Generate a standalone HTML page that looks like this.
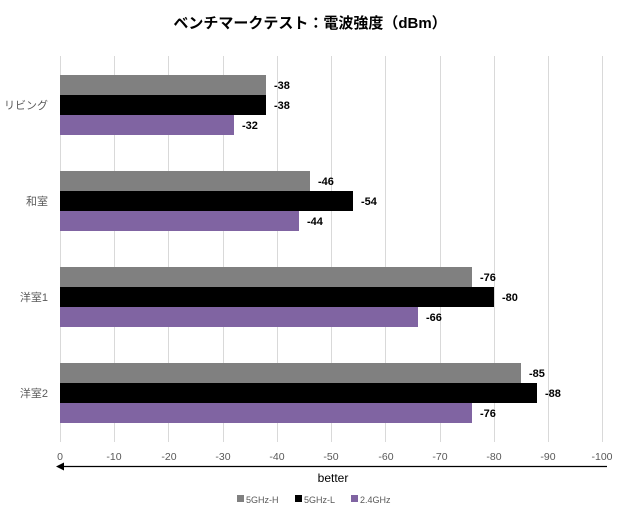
<!DOCTYPE html>
<html><head><meta charset="utf-8"><style>
body{margin:0;background:#fff;width:620px;height:515px;overflow:hidden}
</style></head><body>
<svg width="620" height="515" xmlns="http://www.w3.org/2000/svg" font-family="'Liberation Sans','Noto Sans CJK JP',sans-serif">
<rect width="620" height="515" fill="#fff"/>
<text x="310" y="28" text-anchor="middle" font-size="15" font-weight="bold" fill="#000">ベンチマークテスト：電波強度（dBm）</text>
<g stroke="#d9d9d9" stroke-width="1">
<line x1="60.5" y1="56" x2="60.5" y2="442"/><line x1="114.5" y1="56" x2="114.5" y2="442"/><line x1="168.5" y1="56" x2="168.5" y2="442"/><line x1="223.5" y1="56" x2="223.5" y2="442"/><line x1="277.5" y1="56" x2="277.5" y2="442"/><line x1="331.5" y1="56" x2="331.5" y2="442"/><line x1="385.5" y1="56" x2="385.5" y2="442"/><line x1="440.5" y1="56" x2="440.5" y2="442"/><line x1="494.5" y1="56" x2="494.5" y2="442"/><line x1="548.5" y1="56" x2="548.5" y2="442"/><line x1="602.5" y1="56" x2="602.5" y2="442"/>
</g>
<g>
<rect x="60" y="75" width="206" height="20" fill="#808080"/><rect x="60" y="95" width="206" height="20" fill="#000"/><rect x="60" y="115" width="174" height="20" fill="#8064a2"/>
<rect x="60" y="171" width="250" height="20" fill="#808080"/><rect x="60" y="191" width="293" height="20" fill="#000"/><rect x="60" y="211" width="239" height="20" fill="#8064a2"/>
<rect x="60" y="267" width="412" height="20" fill="#808080"/><rect x="60" y="287" width="434" height="20" fill="#000"/><rect x="60" y="307" width="358" height="20" fill="#8064a2"/>
<rect x="60" y="363" width="461" height="20" fill="#808080"/><rect x="60" y="383" width="477" height="20" fill="#000"/><rect x="60" y="403" width="412" height="20" fill="#8064a2"/>
</g>
<g font-size="11" font-weight="bold" fill="#000">
<text x="274" y="89">-38</text><text x="274" y="109">-38</text><text x="242" y="129">-32</text>
<text x="318" y="185">-46</text><text x="361" y="205">-54</text><text x="307" y="225">-44</text>
<text x="480" y="281">-76</text><text x="502" y="301">-80</text><text x="426" y="321">-66</text>
<text x="529" y="377">-85</text><text x="545" y="397">-88</text><text x="480" y="417">-76</text>
</g>
<g font-size="11" fill="#595959" text-anchor="end">
<text x="48" y="109">リビング</text><text x="48" y="205">和室</text><text x="48" y="301">洋室1</text><text x="48" y="397">洋室2</text>
</g>
<g font-size="10.5" fill="#595959" text-anchor="middle">
<text x="60" y="460">0</text><text x="114" y="460">-10</text><text x="169" y="460">-20</text><text x="223" y="460">-30</text><text x="277" y="460">-40</text><text x="331" y="460">-50</text><text x="386" y="460">-60</text><text x="440" y="460">-70</text><text x="494" y="460">-80</text><text x="548" y="460">-90</text><text x="602" y="460">-100</text>
</g>
<line x1="62" y1="466.5" x2="607" y2="466.5" stroke="#000" stroke-width="1.2"/>
<polygon points="56,466.5 64,462.5 64,470.5" fill="#000"/>
<text x="333" y="482" text-anchor="middle" font-size="12" fill="#000">better</text>
<g font-size="9" fill="#595959">
<rect x="237" y="495" width="7" height="7" fill="#808080"/><text x="246" y="503">5GHz-H</text>
<rect x="295" y="495" width="7" height="7" fill="#000"/><text x="304" y="503">5GHz-L</text>
<rect x="351" y="495" width="7" height="7" fill="#8064a2"/><text x="360" y="503">2.4GHz</text>
</g>
</svg>
</body></html>
